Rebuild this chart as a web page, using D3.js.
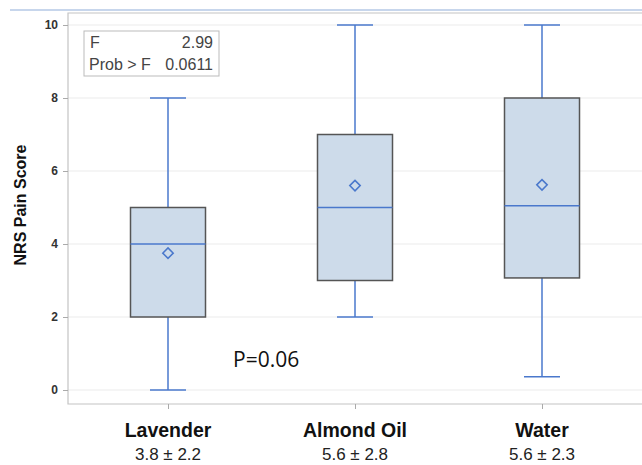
<!DOCTYPE html>
<html>
<head>
<meta charset="utf-8">
<script src="https://cdn.jsdelivr.net/npm/d3@7"></script>
<style>
  body { margin: 0; background: #fff; }
  svg { display: block; font-family: "Liberation Sans", Arial, sans-serif; }
</style>
</head>
<body>
<div id="chart"></div>
<script>
// box plot data
var groups = ["Lavender", "Almond Oil", "Water"];
var meanSd = ["3.8 \u00b1 2.2", "5.6 \u00b1 2.8", "5.6 \u00b1 2.3"];
var mins = [0, 2, 0.36];
var q1s = [2, 3, 3.07];
var medians = [4, 5, 5.05];
var q3s = [5, 7, 8];
var maxs = [8, 10, 10];
var means = [3.75, 5.6, 5.62];
var yTicks = [0, 2, 4, 6, 8, 10];

var width = 642, height = 465;
var margin = {top: 13, left: 68, bottom: 61, right: 0};

var svg = d3.select("#chart").append("svg")
    .attr("width", width)
    .attr("height", height);

var x = d3.scalePoint()
    .domain(groups)
    .range([168, 542]);

var y = d3.scaleLinear()
    .domain([0, 10])
    .range([390, 25]);

var boxW = 75, capW = 36;
var blue = "#4a78cc";

// top decorative line
svg.append("line")
    .attr("x1", 10).attr("x2", width)
    .attr("y1", 10).attr("y2", 10)
    .attr("stroke", "#b4c8e6").attr("stroke-width", 1.5);

// gridlines
svg.append("g").selectAll("line")
    .data(yTicks)
    .enter().append("line")
    .attr("x1", margin.left).attr("x2", width)
    .attr("y1", function (d) { return y(d); })
    .attr("y2", function (d) { return y(d); })
    .attr("stroke", "#ebebeb");

// frame
svg.append("path")
    .attr("d", "M" + width + "," + margin.top + "H" + margin.left + "V" + (height - margin.bottom) + "H" + width)
    .attr("fill", "none")
    .attr("stroke", "#c4c4c4")
    .attr("stroke-width", 1.2);

// y axis
var yAxis = svg.append("g")
    .attr("transform", "translate(" + margin.left + ",0)")
    .call(d3.axisLeft(y).tickValues(yTicks).tickSize(5).tickPadding(5));
yAxis.select(".domain").remove();
yAxis.selectAll("line").attr("stroke", "#aaa");
yAxis.selectAll("text")
    .attr("fill", "#333")
    .style("font-size", "12px")
    .style("font-weight", "bold");

// x axis ticks
var xAxis = svg.append("g")
    .attr("transform", "translate(0," + (height - margin.bottom) + ")")
    .call(d3.axisBottom(x).tickSize(5).tickFormat(""));
xAxis.select(".domain").remove();
xAxis.selectAll("line").attr("stroke", "#aaa");

// y label
svg.append("text")
    .attr("transform", "translate(26," + 205 + ") rotate(-90)")
    .attr("text-anchor", "middle")
    .style("font-size", "16px")
    .style("font-weight", "bold")
    .attr("fill", "#111")
    .text("NRS Pain Score");

// boxes
var box = svg.append("g").selectAll("g")
    .data(groups)
    .enter().append("g");

box.append("line") // whisker
    .attr("x1", function (d) { return x(d); })
    .attr("x2", function (d) { return x(d); })
    .attr("y1", function (d, i) { return y(mins[i]); })
    .attr("y2", function (d, i) { return y(maxs[i]); })
    .attr("stroke", blue).attr("stroke-width", 1.5);

box.append("line")
    .attr("x1", function (d) { return x(d) - capW / 2; })
    .attr("x2", function (d) { return x(d) + capW / 2; })
    .attr("y1", function (d, i) { return y(maxs[i]); })
    .attr("y2", function (d, i) { return y(maxs[i]); })
    .attr("stroke", blue).attr("stroke-width", 1.5);

box.append("line")
    .attr("x1", function (d) { return x(d) - capW / 2; })
    .attr("x2", function (d) { return x(d) + capW / 2; })
    .attr("y1", function (d, i) { return y(mins[i]); })
    .attr("y2", function (d, i) { return y(mins[i]); })
    .attr("stroke", blue).attr("stroke-width", 1.5);

box.append("rect")
    .attr("x", function (d) { return x(d) - boxW / 2; })
    .attr("y", function (d, i) { return y(q3s[i]); })
    .attr("width", boxW)
    .attr("height", function (d, i) { return y(q1s[i]) - y(q3s[i]); })
    .attr("fill", "#cddbea")
    .attr("stroke", "#555")
    .attr("stroke-width", 1.5);

box.append("line") // median
    .attr("x1", function (d) { return x(d) - boxW / 2; })
    .attr("x2", function (d) { return x(d) + boxW / 2; })
    .attr("y1", function (d, i) { return y(medians[i]); })
    .attr("y2", function (d, i) { return y(medians[i]); })
    .attr("stroke", blue).attr("stroke-width", 1.5);

box.append("path") // mean diamond
    .attr("d", d3.symbol().type(d3.symbolDiamond2).size(70))
    .attr("transform", function (d, i) { return "translate(" + x(d) + "," + y(means[i]) + ")"; })
    .attr("fill", "none")
    .attr("stroke", blue).attr("stroke-width", 1.5);

// category labels
svg.append("g").selectAll("text")
    .data(groups)
    .enter().append("text")
    .attr("x", function (d) { return x(d); })
    .attr("y", 437)
    .attr("text-anchor", "middle")
    .style("font-size", "19.5px")
    .style("font-weight", "bold")
    .attr("fill", "#111")
    .text(function (d) { return d; });

svg.append("g").selectAll("text")
    .data(groups)
    .enter().append("text")
    .attr("x", function (d) { return x(d); })
    .attr("y", 460)
    .attr("text-anchor", "middle")
    .style("font-size", "17px")
    .attr("fill", "#222")
    .text(function (d, i) { return meanSd[i]; });

// stats inset
var inset = svg.append("g");
inset.append("rect")
    .attr("x", 84).attr("y", 31)
    .attr("width", 135).attr("height", 45)
    .attr("fill", "#fff")
    .attr("stroke", "#bbb");
inset.append("text").attr("x", 90).attr("y", 48)
    .style("font-size", "16px").attr("fill", "#444").text("F");
inset.append("text").attr("x", 213).attr("y", 48).attr("text-anchor", "end")
    .style("font-size", "16px").attr("fill", "#444").text("2.99");
inset.append("text").attr("x", 89).attr("y", 70)
    .style("font-size", "16px").attr("fill", "#444").text("Prob > F");
inset.append("text").attr("x", 213).attr("y", 70).attr("text-anchor", "end")
    .style("font-size", "16px").attr("fill", "#444").text("0.0611");

svg.append("text")
    .attr("x", 233).attr("y", 367)
    .style("font-size", "21px")
    .style("font-family", "'Open Sans', sans-serif")
    .attr("fill", "#111")
    .text("P=0.06");
</script>
</body>
</html>
